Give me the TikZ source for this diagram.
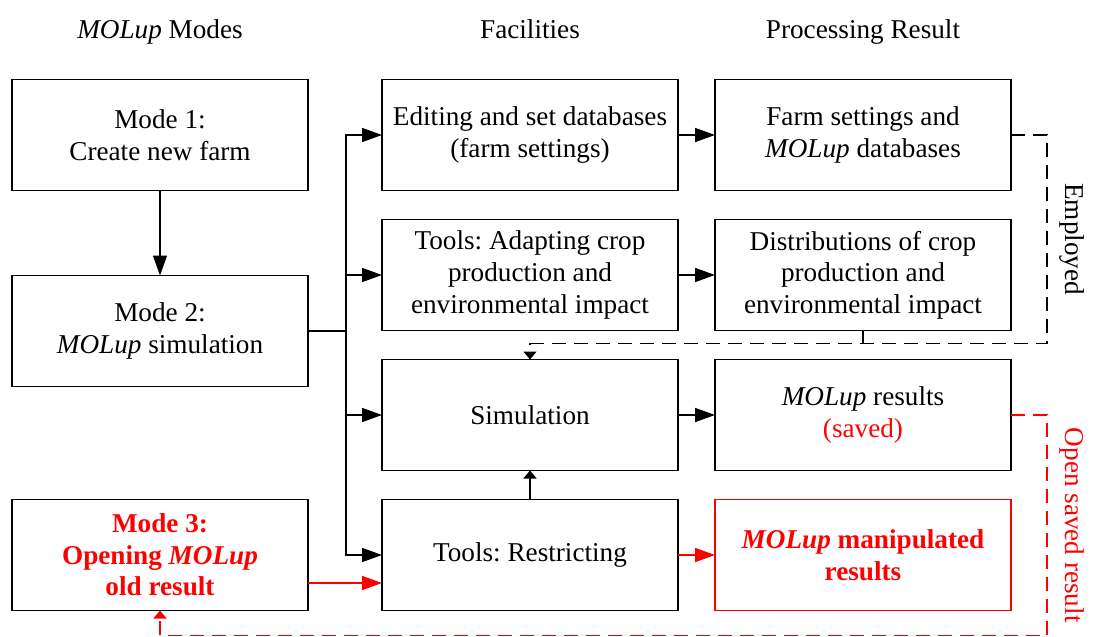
\documentclass[tikz,border=0pt]{standalone}
\usepackage{fontspec}
\setmainfont{Liberation Serif}
\usetikzlibrary{arrows.meta,calc,positioning}
\frenchspacing

\begin{document}
\begin{tikzpicture}[
x=0.5pt, y=-0.5pt,
every node/.style={
        font=\fontsize{13.6}{15.8}\selectfont
    },
node distance = 14.5pt and 37pt,
    box/.style = {rectangle, draw=#1, line width=0.8pt, minimum width=148pt,
                  minimum height=55.5pt, align=center, inner sep=2pt, outer sep=0pt},
    box/.default = black,
    redbold/.style = {text=red, font=\fontsize{13.6}{15.8}\selectfont\bfseries},
    head/.style = {text height=0.7em, text depth=0.25em},
    line/.style = {line width=0.8pt},
    arr/.style = {line, -{Triangle[length=10pt,width=7pt]}},
    tip/.style = {line, -{Triangle[length=4pt,width=6.5pt]}},
    link/.style = {line, dash pattern=on 7pt off 4pt},
    side/.style = {anchor=south, rotate=-90, inner sep=6pt}
    ]
\useasboundingbox (0,0) rectangle (1093,637);

% modes
\node (Mode1) [box] at (160,135) {Mode 1:\\Create new farm};
\node (Mode2) [box, below=42.5pt of Mode1] {Mode 2:\\\textit{MOLup} simulation};

% facilities and results
\node (Edit)     [box, right=of Mode1]       {Editing and set databases\\(farm settings)};
\node (Farm)     [box, right=18.5pt of Edit] {Farm settings and\\\textit{MOLup} databases};
\node (Adapt)    [box, below=of Edit]        {Tools: Adapting crop\\production and\\environmental impact};
\node (Dist)     [box, below=of Farm]        {Distributions of crop\\production and\\environmental impact};
\node (Sim)      [box, below=of Adapt]       {Simulation};
\node (Results)  [box, below=of Dist]        {\textit{MOLup} results\\\textcolor{red}{(saved)}};
\node (Restrict) [box, below=of Sim]         {Tools: Restricting};
\node (Manip)    [box=red, redbold, below=of Results] {\textit{MOLup} manipulated\\results};
\node (Mode3)    [box, redbold, left=of Restrict]     {Mode 3:\\Opening \textit{MOLup}\\old result};

% headers
\node (HModes) [head, above=14.5pt of Mode1] {\textit{MOLup} Modes};
\node (HFac)   [head, above=14.5pt of Edit]  {Facilities};
\node (HRes)   [head, above=14.5pt of Farm]  {Processing Result};

\coordinate (Bus) at ($(Mode2.east)+(19pt,0)$);
\draw[line] (Mode2.east) -- (Bus);
\foreach \n in {Edit,Adapt,Sim,Restrict}
    \draw[arr] (Bus) |- (\n.west);

\draw[arr] (Mode1) -- (Mode2);
\draw[arr] (Edit) -- (Farm);
\draw[arr] (Adapt) -- (Dist);
\draw[arr] (Sim) -- (Results);
\draw[arr, red] (Restrict) -- (Manip);
\draw[arr, red] ([yshift=-14pt]Mode3.east) -- ([yshift=-14pt]Restrict.west);
\draw[tip] (Restrict) -- (Sim);

% employed / open saved
\draw[link, -{Triangle[length=4pt,width=6.5pt]}] (Farm.east) -- ++(18pt,0)
    |- node[side, pos=0.25] {Employed} ([yshift=8pt]Sim.north) coordinate (EmpEnd) -- (Sim.north);
\draw[line] (Dist.south) -- (Dist.south |- EmpEnd);
\draw[link, red, -{Triangle[length=4pt,width=6.5pt]}] (Results.east) -- ++(18pt,0)
    |- node[side, pos=0.25] {Open saved result} ([yshift=-12.5pt]Mode3.south) -- (Mode3.south);
\end{tikzpicture}
\end{document}
